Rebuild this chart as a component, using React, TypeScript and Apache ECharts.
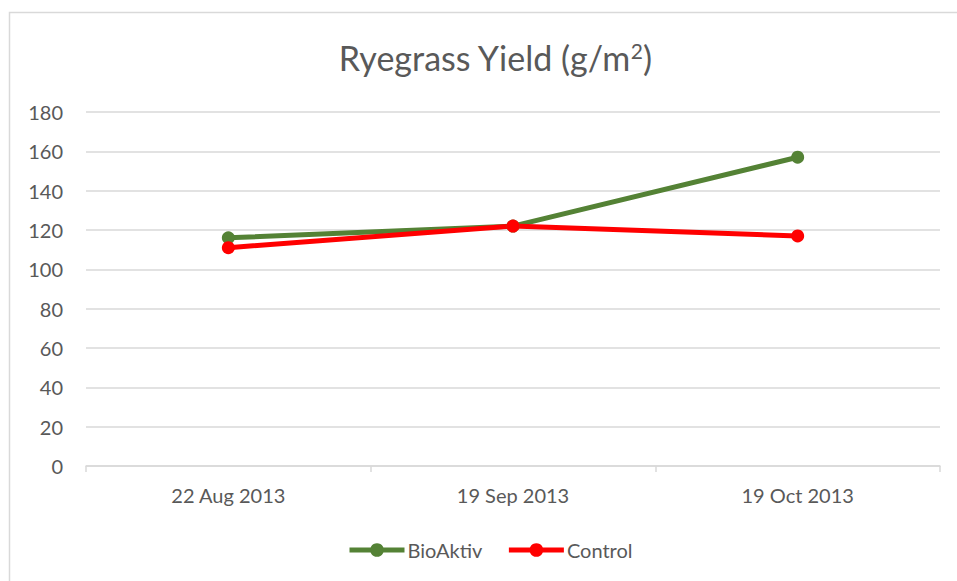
import React, { useEffect, useRef } from "react";
import * as echarts from "echarts";

const categories = ["22 Aug 2013", "19 Sep 2013", "19 Oct 2013"];
const bioAktiv = [116, 122, 157];
const control = [111, 122, 117];
const yMin = 0;
const yMax = 180;
const yStep = 20;

const FONT = "Lato, 'Open Sans', sans-serif";
const TXT = "#595959";

export default function App() {
  const ref = useRef<HTMLDivElement>(null);
  useEffect(() => {
    if (!ref.current) return;
    const chart = echarts.init(ref.current, null, { renderer: "svg" });
    chart.setOption({
      animation: false,
      backgroundColor: "#ffffff",
      textStyle: { fontFamily: FONT },
      graphic: [
        {
          type: "rect",
          shape: { x: 9.5, y: 12.5, width: 1000, height: 700 },
          style: { fill: "none", stroke: "#d9d9d9", lineWidth: 1.5 },
          silent: true,
          z: -10,
        },
      ],
      title: {
        text: "Ryegrass Yield (g/m{sup|2})",
        left: 490,
        textAlign: "center",
        top: 35,
        textStyle: {
          fontFamily: FONT,
          fontSize: 34,
          fontWeight: "normal",
          color: TXT,
          rich: {
            sup: {
              fontFamily: FONT,
              fontSize: 21,
              color: TXT,
              verticalAlign: "top",
              padding: [0, 0, 14, 0],
            },
          },
        },
      },
      legend: {
        bottom: 21,
        left: 347,
        padding: 0,
        itemWidth: 55,
        itemHeight: 17,
        itemGap: 24,
        lineStyle: { width: 5 },
        textStyle: { fontFamily: FONT, fontSize: 20, color: TXT, padding: [0, 0, 0, -2] },
        data: ["BioAktiv", "Control"],
      },
      grid: { left: 86, right: 17, top: 112, bottom: 115 },
      xAxis: {
        type: "category",
        data: categories,
        boundaryGap: true,
        axisLine: { lineStyle: { color: "#d9d9d9", width: 1.5 } },
        axisTick: { show: true, length: 6, lineStyle: { color: "#d9d9d9", width: 1.5 } },
        axisLabel: { fontFamily: FONT, fontSize: 20, color: TXT, margin: 19 },
      },
      yAxis: {
        type: "value",
        min: yMin,
        max: yMax,
        interval: yStep,
        axisLine: { show: false },
        axisTick: { show: false },
        axisLabel: { fontFamily: FONT, fontSize: 20, color: TXT, margin: 23 },
        splitLine: { lineStyle: { color: "#d9d9d9", width: 1.5 } },
      },
      series: [
        {
          name: "BioAktiv",
          type: "line",
          data: bioAktiv,
          symbol: "circle",
          symbolSize: 13,
          itemStyle: { color: "#548235" },
          lineStyle: { color: "#548235", width: 5 },
        },
        {
          name: "Control",
          type: "line",
          data: control,
          symbol: "circle",
          symbolSize: 13,
          itemStyle: { color: "#ff0000" },
          lineStyle: { color: "#ff0000", width: 5 },
        },
      ],
    });
    return () => chart.dispose();
  }, []);
  return <div ref={ref} style={{ width: 957, height: 581, position: "absolute", left: 0, top: 0 }} />;
}
